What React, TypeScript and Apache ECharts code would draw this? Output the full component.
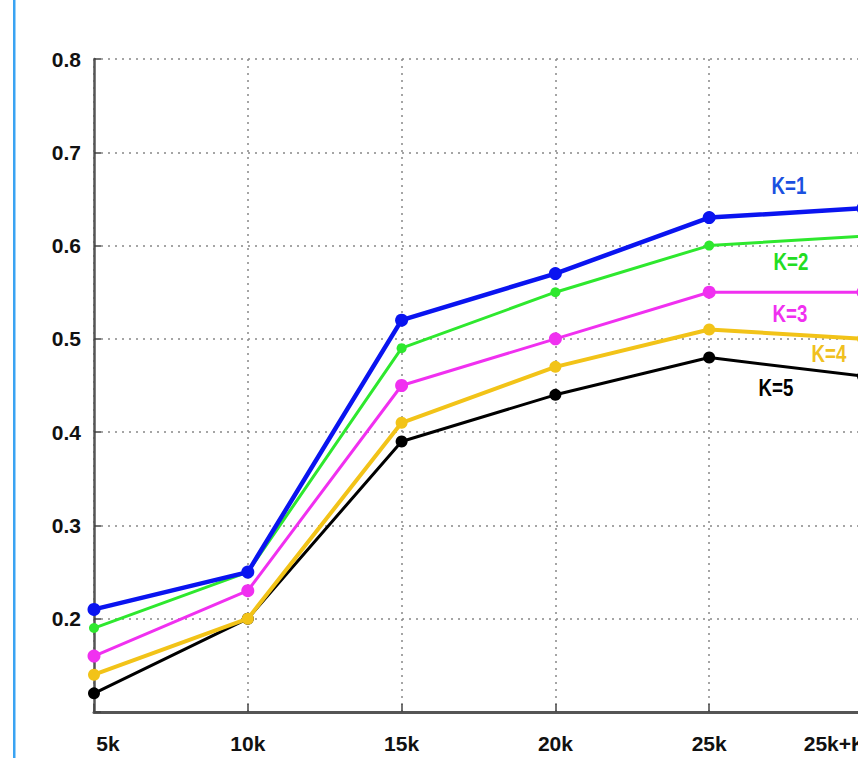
import React, { useEffect, useRef } from "react";
import * as echarts from "echarts";

const categories = ["5k", "10k", "15k", "20k", "25k", "25k+K"];
const k1 = [0.21, 0.25, 0.52, 0.57, 0.63, 0.64];
const k2 = [0.19, 0.25, 0.49, 0.55, 0.6, 0.61];
const k3 = [0.16, 0.23, 0.45, 0.5, 0.55, 0.55];
const k4 = [0.14, 0.2, 0.41, 0.47, 0.51, 0.5];
const k5 = [0.12, 0.2, 0.39, 0.44, 0.48, 0.46];
const seriesNames = ["K=1", "K=2", "K=3", "K=4", "K=5"];
const yTicks = [0.2, 0.3, 0.4, 0.5, 0.6, 0.7, 0.8];

const FONT = "'Liberation Sans', Arial, sans-serif";

export default function App() {
  const ref = useRef<HTMLDivElement>(null);
  useEffect(() => {
    document.body.style.margin = "0";
    const chart = echarts.init(ref.current!, null, { renderer: "svg" });
    const colors = ["#0a14f0", "#2ee82e", "#f030f0", "#f2c318", "#000000"];
    const textColors = ["#1a50e0", "#22dd22", "#f030f0", "#f0c020", "#000000"];
    const widths = [4.5, 3, 3, 4, 3];
    const sizes = [13, 10, 13, 12, 12];
    const datas = [k1, k2, k3, k4, k5];
    const labelPos = [
      [789, 186],
      [791, 262],
      [790, 314],
      [829, 354],
      [776, 388],
    ];
    chart.setOption({
      animation: false,
      backgroundColor: "#ffffff",
      grid: {
        left: 94,
        top: 59,
        width: 769,
        height: 653,
        containLabel: false,
        outerBoundsMode: "none",
      },
      xAxis: {
        type: "category",
        data: categories,
        boundaryGap: false,
        axisLine: { show: true, lineStyle: { color: "#555", width: 3 } },
        axisTick: { show: true, inside: true, length: 8, interval: 0, lineStyle: { color: "#444", width: 1.5 } },
        splitLine: { show: true, interval: 0, lineStyle: { color: "#888", type: [2, 5], width: 1.5 } },
        axisLabel: {
          interval: 0,
          hideOverlap: false,
          margin: 20,
          color: "#111",
          fontFamily: FONT,
          fontWeight: "bold",
          fontSize: 21,
          lineHeight: 22,
          formatter: (v: string, i: number) =>
            i === 0 ? "{a|" + v + "}" : i === categories.length - 1 ? "{c|" + v + "}" : v,
          rich: {
            a: { padding: [0, 0, 0, 28], fontFamily: FONT, fontWeight: "bold", fontSize: 21, color: "#111" },
            c: { padding: [0, 56, 0, 0], fontFamily: FONT, fontWeight: "bold", fontSize: 21, color: "#111" },
          },
        },
      },
      yAxis: {
        type: "value",
        min: 0.1,
        max: 0.8,
        interval: 0.1,
        axisLine: { show: true, lineStyle: { color: "#555", width: 2.5 } },
        axisTick: { show: true, inside: true, length: 7, lineStyle: { color: "#444", width: 1.5 } },
        splitLine: { show: true, lineStyle: { color: "#888", type: [2, 5], width: 1.5 } },
        axisLabel: {
          margin: 13,
          color: "#111",
          fontFamily: FONT,
          fontWeight: "bold",
          fontSize: 21,
          lineHeight: 22,
          padding: [16, 0, 0, 0],
          formatter: (v: number) => {
            const r = Math.round(v * 10) / 10;
            return yTicks.includes(r) ? r.toFixed(1) : "";
          },
        },
      },
      series: datas.map((d, i) => ({
        name: seriesNames[i],
        type: "line",
        data: d,
        symbol: "circle",
        symbolSize: sizes[i],
        clip: false,
        z: 10 - i,
        lineStyle: { color: colors[i], width: widths[i] },
        itemStyle: { color: colors[i] },
      })),
      graphic: [
        {
          type: "rect",
          shape: { x: 13, y: 0, width: 2.5, height: 758 },
          style: { fill: "#3aa3f2" },
        },
        ...seriesNames.map((n, i) => ({
          type: "text",
          x: labelPos[i][0],
          y: labelPos[i][1],
          scaleX: 0.85,
          scaleY: 1.05,
          style: {
            text: n,
            fill: textColors[i],
            font: "bold 22px " + FONT,
            align: "center",
            verticalAlign: "middle",
          },
        })),
      ],
    });
    return () => chart.dispose();
  }, []);
  return <div ref={ref} style={{ position: "fixed", left: 0, top: 0, width: 858, height: 758 }} />;
}
